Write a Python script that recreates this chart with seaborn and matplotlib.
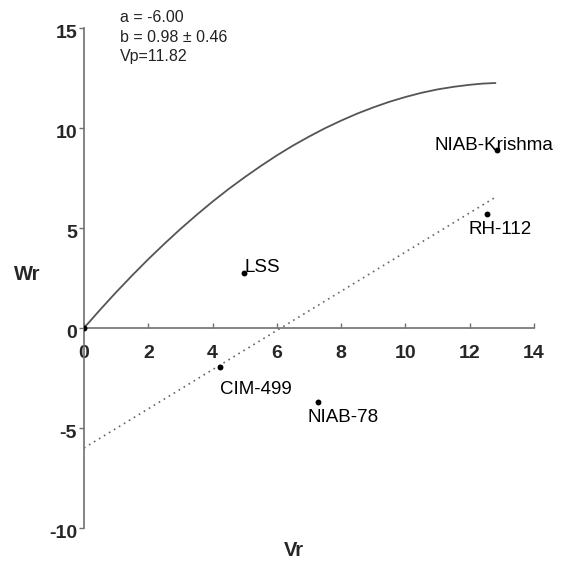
import numpy as np
import pandas as pd
import matplotlib
matplotlib.use("Agg")
import matplotlib.pyplot as plt
import matplotlib.transforms as mtransforms
import seaborn as sns

# ---- data ----
genotypes = ["Origin", "CIM-499", "NIAB-78", "LSS", "RH-112", "NIAB-Krishma"]
vr_values = [0.0, 4.23, 7.28, 4.98, 12.54, 12.85]
wr_values = [0.0, -1.95, -3.70, 2.75, 5.70, 8.90]
show_label = [False, True, True, True, True, True]

# limiting curve, points
curve_vr = [0.0, 0.5, 1.0, 1.5, 2.0, 2.5, 3.0, 3.5, 4.0, 4.5, 5.0, 5.5, 6.0, 6.5,
            7.0, 7.5, 8.0, 8.5, 9.0, 9.5, 10.0, 10.5, 11.0, 11.5, 12.0, 12.4, 12.8]
curve_wr = [0.0, 0.91, 1.79, 2.63, 3.44, 4.21, 4.95, 5.65, 6.32, 6.95, 7.54, 8.10,
            8.63, 9.12, 9.57, 9.99, 10.37, 10.72, 11.03, 11.31, 11.55, 11.76, 11.93,
            12.06, 12.16, 12.22, 12.25]

# regression line Wr = a + b Vr
reg_vr = [0.0, 12.8]
reg_wr = [-6.00, 6.54]

stats_lines = ["a = -6.00", "b = 0.98 \u00b1 0.46", "Vp=11.82"]

x_ticks = [0, 2, 4, 6, 8, 10, 12, 14]
y_ticks = [-10, -5, 0, 5, 10, 15]

# ---- styling ----
sns.set_style("white")
plt.rcParams["font.family"] = ["Liberation Sans", "DejaVu Sans"]

fig = plt.figure(figsize=(5.73, 5.65), dpi=100)
W, H = 573, 565
ax = fig.add_axes([84 / W, 1 - 528 / H, 450 / W, 500 / H])

pts = pd.DataFrame({"Vr": vr_values, "Wr": wr_values, "name": genotypes})
curve = pd.DataFrame({"Vr": curve_vr, "Wr": curve_wr})
reg = pd.DataFrame({"Vr": reg_vr, "Wr": reg_wr})

sns.lineplot(data=curve, x="Vr", y="Wr", ax=ax, color="#555555", lw=1.3,
             sort=False, estimator=None)
sns.lineplot(data=reg, x="Vr", y="Wr", ax=ax, color="#666666", lw=1.2,
             linestyle=(0, (1, 2.5)), sort=False, estimator=None)
sns.scatterplot(data=pts, x="Vr", y="Wr", ax=ax, color="black", s=18,
                edgecolor="black", linewidth=0, zorder=5)

offsets = {"CIM-499": (36, -23), "NIAB-78": (25, -16), "LSS": (18, 5),
           "RH-112": (13, -16), "NIAB-Krishma": (-3, 5)}
for name, xv, yv, sl in zip(genotypes, vr_values, wr_values, show_label):
    if not sl:
        continue
    ax.annotate(name, (xv, yv), xytext=offsets[name], textcoords="offset pixels",
                ha="center", va="center", fontsize=13.5, color="#000000")

ax.set_xlim(0, 14)
ax.set_ylim(-10, 15)
ax.set_xticks(x_ticks)
ax.set_yticks(y_ticks)
ax.set_xticklabels([str(t) for t in x_ticks])
ax.set_yticklabels([str(t) for t in y_ticks])

for s in ["top", "right"]:
    ax.spines[s].set_visible(False)
ax.spines["bottom"].set_position(("data", 0))
for s in ["left", "bottom"]:
    ax.spines[s].set_color("#707070")
    ax.spines[s].set_linewidth(1.2)

ax.tick_params(axis="x", direction="in", length=3.5, width=1, color="#707070",
               pad=12, labelsize=14, bottom=True)
ax.tick_params(axis="y", direction="out", length=3.5, width=1, color="#707070",
               pad=1.5, labelsize=14, left=True)
for lab in ax.get_xticklabels() + ax.get_yticklabels():
    lab.set_fontweight("bold")
shift = mtransforms.ScaledTranslation(0, -4 / 100, fig.dpi_scale_trans)
for lab in ax.get_yticklabels():
    lab.set_transform(lab.get_transform() + shift)

ax.set_xlabel("")
ax.set_ylabel("")
fig.text(27 / W, 1 - 275 / H, "Wr", ha="center", va="center", fontsize=14.5,
         fontweight="bold")
fig.text(294 / W, 1 - 551 / H, "Vr", ha="center", va="center", fontsize=14.5,
         fontweight="bold")

for i, line in enumerate(stats_lines):
    fig.text(120 / W, 1 - (18 + 19 * i) / H, line, ha="left", va="center",
             fontsize=11.5, color="#222222")

fig.savefig("out.png", dpi=100)
